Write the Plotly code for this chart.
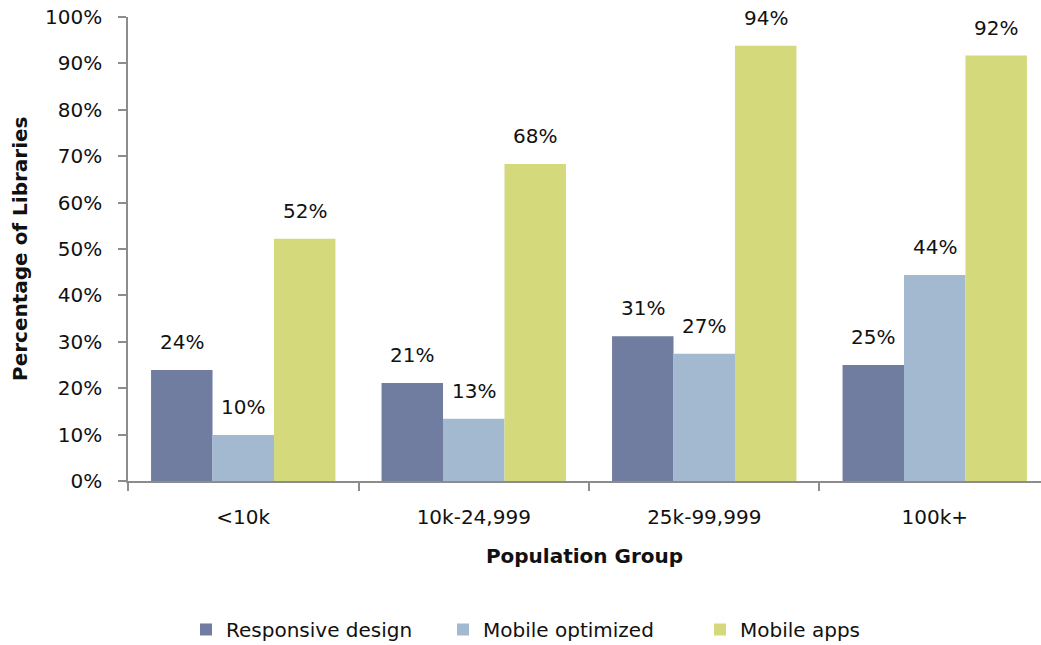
import plotly.graph_objects as go

# Share of libraries offering each mobile service, by population served
groups = ["<10k", "10k-24,999", "25k-99,999", "100k+"]
responsive_design = [23.9, 21.1, 31.2, 25.0]
mobile_optimized = [9.9, 13.4, 27.4, 44.4]
mobile_apps = [52.2, 68.3, 93.8, 91.7]

series = [
    ("Responsive design", responsive_design, "#717CA1"),
    ("Mobile optimized", mobile_optimized, "#A2B9D0"),
    ("Mobile apps", mobile_apps, "#D4DA7B"),
]

FONT = "'DejaVu Sans', sans-serif"
FS = 20
AXIS_GRAY = "#8C8C8C"
INK = "#111111"

fig = go.Figure()
for name, vals, color in series:
    fig.add_trace(go.Bar(
        name=name, x=groups, y=vals,
        marker=dict(color=color, line=dict(width=0)),
        hoverinfo="skip",
    ))

# value labels floating above each bar
bar_w = (1 - 0.2) / 3
for k, (name, vals, color) in enumerate(series):
    for i, v in enumerate(vals):
        fig.add_annotation(
            x=i + (k - 1) * bar_w, y=v, xref="x", yref="y",
            text=f"{round(v)}%", showarrow=False,
            yanchor="middle", yshift=28,
            font=dict(family=FONT, size=FS, color=INK),
        )

# vertical axis title
fig.add_annotation(
    xref="paper", yref="paper", x=0, y=0.5, xshift=-108,
    text="<b>Percentage of Libraries</b>", textangle=-90, showarrow=False,
    xanchor="center", yanchor="middle",
    font=dict(family=FONT, size=FS, color=INK),
)

fig.update_layout(
    width=1041, height=645,
    margin=dict(l=128, r=0, t=17, b=164, autoexpand=False),
    paper_bgcolor="white", plot_bgcolor="white",
    barmode="group", bargap=0.2, bargroupgap=0,
    font=dict(family=FONT, size=FS, color=INK),
    showlegend=True,
    legend=dict(
        orientation="h", xref="container", x=186 / 1041, xanchor="left",
        y=-0.32, yanchor="middle",
        font=dict(family=FONT, size=FS, color=INK),
        itemwidth=30, tracegroupgap=0,
        entrywidth=212,
    ),
    xaxis=dict(
        type="category", automargin=False,
        range=[-0.5, 3.461],
        showline=True, linecolor=AXIS_GRAY, linewidth=1.5,
        ticks="outside", tickson="boundaries", ticklen=8,
        tickcolor=AXIS_GRAY, tickwidth=1.5,
        ticklabelstandoff=17,
        showgrid=False, zeroline=False,
        tickfont=dict(family=FONT, size=FS, color=INK),
        title=dict(text="<b>Population Group</b>", standoff=21,
                   font=dict(family=FONT, size=FS, color=INK)),
    ),
    yaxis=dict(
        range=[0, 100], dtick=10, ticksuffix="%", automargin=False,
        showline=True, linecolor=AXIS_GRAY, linewidth=1.5,
        ticks="outside", ticklen=8, tickcolor=AXIS_GRAY, tickwidth=1.5,
        ticklabelstandoff=12,
        showgrid=False, zeroline=False,
        tickfont=dict(family=FONT, size=FS, color=INK),
    ),
)

fig.write_html("out.html")
